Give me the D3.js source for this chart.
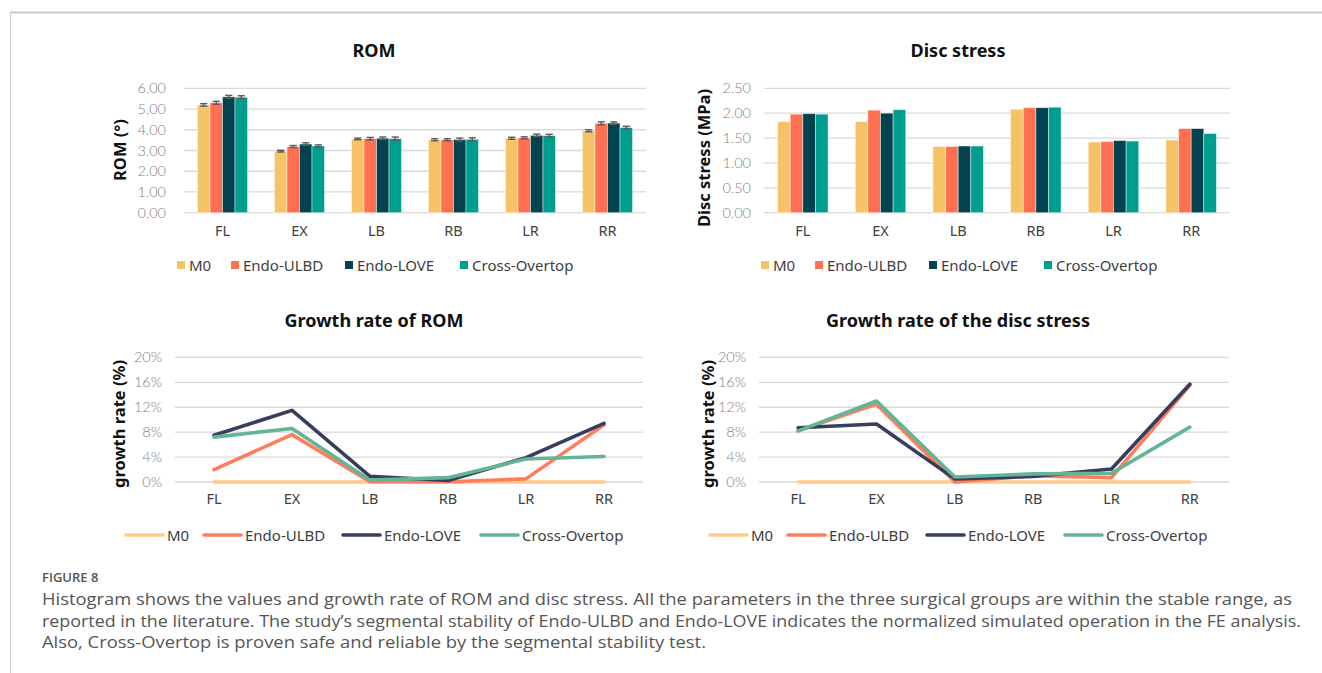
<!DOCTYPE html>
<html><head><meta charset="utf-8">
<script src="https://cdn.jsdelivr.net/npm/d3@7"></script>
<style>body{margin:0;background:#fff}svg{display:block}</style>
</head><body><svg id="c" width="1322" height="673"></svg>
<script>
// ---------------- data ----------------
const categories = ["FL", "EX", "LB", "RB", "LR", "RR"];
const seriesNames = ["M0", "Endo-ULBD", "Endo-LOVE", "Cross-Overtop"];

const romM0    = [5.20, 2.97, 3.56, 3.52, 3.59, 3.95];
const romULBD  = [5.30, 3.19, 3.57, 3.52, 3.61, 4.31];
const romLOVE  = [5.59, 3.31, 3.59, 3.53, 3.73, 4.32];
const romCross = [5.57, 3.22, 3.57, 3.54, 3.72, 4.11];
const romErrM0    = [0.06, 0.04, 0.04, 0.05, 0.05, 0.05];
const romErrULBD  = [0.07, 0.05, 0.06, 0.05, 0.05, 0.07];
const romErrLOVE  = [0.07, 0.06, 0.06, 0.07, 0.06, 0.06];
const romErrCross = [0.07, 0.05, 0.08, 0.07, 0.06, 0.06];

const discM0    = [1.83, 1.83, 1.33, 2.08, 1.42, 1.46];
const discULBD  = [1.98, 2.06, 1.33, 2.11, 1.43, 1.69];
const discLOVE  = [1.99, 2.00, 1.34, 2.11, 1.45, 1.69];
const discCross = [1.98, 2.07, 1.34, 2.12, 1.44, 1.59];

const growthRomM0    = [0, 0, 0, 0, 0, 0];
const growthRomULBD  = [0.020, 0.076, 0.0005, 0.0005, 0.005, 0.092];
const growthRomLOVE  = [0.075, 0.115, 0.009, 0.0025, 0.039, 0.094];
const growthRomCross = [0.072, 0.086, 0.003, 0.007, 0.037, 0.041];

const growthDiscM0    = [0, 0, 0, 0, 0, 0];
const growthDiscULBD  = [0.082, 0.125, 0.000, 0.010, 0.007, 0.155];
const growthDiscLOVE  = [0.087, 0.093, 0.005, 0.009, 0.021, 0.157];
const growthDiscCross = [0.082, 0.130, 0.008, 0.013, 0.014, 0.088];

const romTicks = [0, 1, 2, 3, 4, 5, 6];
const discTicks = [0, 0.5, 1.0, 1.5, 2.0, 2.5];
const growthTicks = [0, 0.04, 0.08, 0.12, 0.16, 0.20];

const captionHead = "FIGURE 8";
const captionLines = [
  "Histogram shows the values and growth rate of ROM and disc stress. All the parameters in the three surgical groups are within the stable range, as",
  "reported in the literature. The study\u2019s segmental stability of Endo-ULBD and Endo-LOVE indicates the normalized simulated operation in the FE analysis.",
  "Also, Cross-Overtop is proven safe and reliable by the segmental stability test."
];

// ---------------- styles ----------------
const barColors = ["#F5C366", "#FF7050", "#02434F", "#009E8E"];
const lineColors = ["#FFCA8A", "#FF7D5C", "#373D5C", "#64B596"];
const numFont = "Lato, 'Noto Sans', sans-serif";
const txtFont = "'Noto Sans', 'DejaVu Sans', sans-serif";

const svg = d3.select("#c");

// frame
svg.append("line").attr("x1", 10).attr("x2", 1322).attr("y1", 12.5).attr("y2", 12.5)
  .attr("stroke", "#c8c8c8").attr("stroke-width", 2);
svg.append("line").attr("x1", 10.5).attr("x2", 10.5).attr("y1", 12).attr("y2", 673)
  .attr("stroke", "#d0d0d0").attr("stroke-width", 1);

function frame(o) {
  const g = svg.append("g");
  const y = d3.scaleLinear().domain([o.ticks[0], o.ticks[o.ticks.length - 1]]).range([o.yBot, o.yTop]);
  const x = d3.scaleBand().domain(categories).range([o.x0, o.x1]).paddingInner(0.35).paddingOuter(0.175);
  // grid
  g.selectAll(".grid").data(o.ticks).join("line")
    .attr("x1", o.x0).attr("x2", o.x1)
    .attr("y1", d => y(d)).attr("y2", d => y(d))
    .attr("stroke", "#d9d9d9").attr("stroke-width", 1.3);
  // tick labels
  g.selectAll(".tl").data(o.ticks).join("text")
    .attr("x", o.labelRight).attr("y", d => y(d) + 5)
    .attr("text-anchor", "end").attr("font-family", numFont).attr("font-size", 14.5).attr("font-weight", 300)
    .attr("fill", "#808080").text(o.fmt);
  // category labels
  g.selectAll(".cl").data(categories).join("text")
    .attr("x", d => x(d) + x.bandwidth() / 2).attr("y", o.catY)
    .attr("text-anchor", "middle").attr("font-family", txtFont).attr("font-size", 14.5)
    .attr("fill", "#404040").text(d => d);
  // title
  g.append("text").attr("x", o.titleX).attr("y", o.titleY).attr("text-anchor", "middle")
    .attr("font-family", txtFont).attr("font-weight", "bold").attr("font-size", 18)
    .attr("fill", "#111").text(o.title);
  // y title
  g.append("text").attr("transform", `translate(${o.yTitleX},${o.yTitleY}) rotate(-90)`)
    .attr("text-anchor", "middle").attr("dominant-baseline", "central")
    .attr("font-family", txtFont).attr("font-weight", "bold").attr("font-size", 16.5)
    .attr("fill", "#111").text(o.yTitle);
  return {g, x, y};
}

function barPanel(o, series, errs) {
  const {g, x, y} = frame(o);
  const xs = d3.scaleBand().domain(seriesNames).range([0, x.bandwidth()]);
  seriesNames.forEach((s, si) => {
    const vals = series[si];
    g.selectAll(null).data(categories).join("rect")
      .attr("x", d => x(d) + xs(s)).attr("width", xs.bandwidth())
      .attr("y", (d, i) => y(vals[i])).attr("height", (d, i) => y(0) - y(vals[i]))
      .attr("fill", barColors[si]).attr("stroke", "#ffffff").attr("stroke-opacity", 0.55).attr("stroke-width", 0.8);
  });
  if (errs) {
    seriesNames.forEach((s, si) => {
      const vals = series[si], ev = errs[si];
      categories.forEach((c, i) => {
        const cx = x(c) + xs(s) + xs.bandwidth() / 2;
        const hi = y(vals[i] + ev[i]), lo = y(vals[i] - ev[i]);
        g.append("line").attr("x1", cx).attr("x2", cx).attr("y1", hi).attr("y2", lo)
          .attr("stroke", "#5a5a5a").attr("stroke-width", 1.4);
        [hi, lo].forEach(yy => g.append("line").attr("x1", cx - 3.6).attr("x2", cx + 3.6)
          .attr("y1", yy).attr("y2", yy).attr("stroke", "#5a5a5a").attr("stroke-width", 1.4));
      });
    });
  }
  // legend (squares)
  seriesNames.forEach((s, si) => {
    const lx = o.legendX[si];
    g.append("rect").attr("x", lx).attr("y", o.legendY - 4).attr("width", 8).attr("height", 8)
      .attr("fill", barColors[si]);
    g.append("text").attr("x", lx + 12).attr("y", o.legendY + 5.5)
      .attr("font-family", txtFont).attr("font-size", 15).attr("fill", "#404040").text(s);
  });
}

function linePanel(o, series) {
  const {g, x, y} = frame(o);
  const line = d3.line().x((d, i) => x(categories[i]) + x.bandwidth() / 2).y(d => y(d));
  seriesNames.forEach((s, si) => {
    g.append("path").datum(series[si]).attr("d", line).attr("fill", "none")
      .attr("stroke", lineColors[si]).attr("stroke-width", 3.6)
      .attr("stroke-linejoin", "round").attr("stroke-linecap", "round");
  });
  seriesNames.forEach((s, si) => {
    const lx = o.legendX[si];
    g.append("line").attr("x1", lx).attr("x2", lx + 37).attr("y1", o.legendY).attr("y2", o.legendY)
      .attr("stroke", lineColors[si]).attr("stroke-width", 3.6).attr("stroke-linecap", "round");
    g.append("text").attr("x", lx + 41).attr("y", o.legendY + 5.5)
      .attr("font-family", txtFont).attr("font-size", 15).attr("fill", "#404040").text(s);
  });
}

const fmt2 = d3.format(".2f");
const fmtPct = d => Math.round(d * 100) + "%";

barPanel({x0: 184, x1: 646, yTop: 88.3, yBot: 212.7, ticks: romTicks, fmt: fmt2, labelRight: 166,
  catY: 236, title: "ROM", titleX: 374, titleY: 57, yTitle: "ROM (\u00B0)", yTitleX: 119, yTitleY: 150,
  legendX: [177, 231, 345, 460], legendY: 265},
  [romM0, romULBD, romLOVE, romCross], [romErrM0, romErrULBD, romErrLOVE, romErrCross]);

barPanel({x0: 764, x1: 1230, yTop: 88.3, yBot: 212.7, ticks: discTicks, fmt: fmt2, labelRight: 751,
  catY: 236, title: "Disc stress", titleX: 958, titleY: 57, yTitle: "Disc stress (MPa)", yTitleX: 703, yTitleY: 158,
  legendX: [761, 815, 929, 1044], legendY: 265},
  [discM0, discULBD, discLOVE, discCross], null);

linePanel({x0: 175, x1: 643, yTop: 357.4, yBot: 482, ticks: growthTicks, fmt: fmtPct, labelRight: 162,
  catY: 504, title: "Growth rate of ROM", titleX: 374, titleY: 327, yTitle: "growth rate (%)", yTitleX: 118, yTitleY: 424,
  legendX: [126, 204, 343, 481], legendY: 535},
  [growthRomM0, growthRomULBD, growthRomLOVE, growthRomCross]);

linePanel({x0: 759, x1: 1229, yTop: 357.4, yBot: 482, ticks: growthTicks, fmt: fmtPct, labelRight: 746,
  catY: 504, title: "Growth rate of the disc stress", titleX: 958, titleY: 327, yTitle: "growth rate (%)", yTitleX: 707, yTitleY: 424,
  legendX: [710, 788, 927, 1065], legendY: 535},
  [growthDiscM0, growthDiscULBD, growthDiscLOVE, growthDiscCross]);

// caption
svg.append("text").attr("x", 42).attr("y", 582).attr("font-family", "'Open Sans', sans-serif")
  .attr("font-size", 13).attr("font-weight", 600).attr("fill", "#555").text(captionHead);
const capWidths = [1250, 1259, 664];
captionLines.forEach((t, i) => {
  svg.append("text").attr("x", 42).attr("y", 605 + i * 21.5)
    .attr("font-family", "'Open Sans', sans-serif").attr("font-size", 16).attr("fill", "#555")
    .attr("textLength", capWidths[i]).attr("lengthAdjust", "spacingAndGlyphs").text(t);
});
</script></body></html>
